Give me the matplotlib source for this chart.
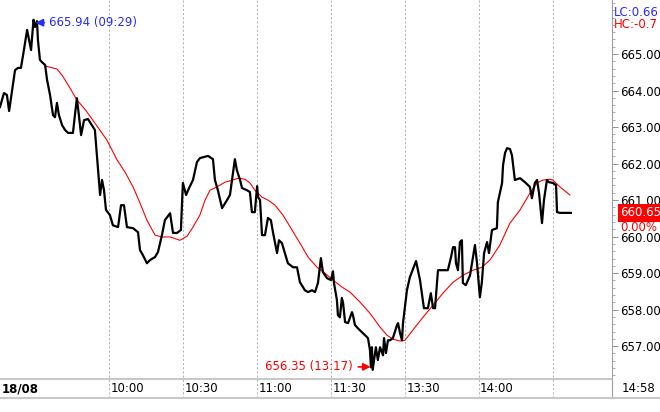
import matplotlib
matplotlib.use("Agg")
import matplotlib.pyplot as plt
from matplotlib.transforms import offset_copy, blended_transform_factory
from matplotlib.ticker import MultipleLocator

# Time axis: minutes since 09:30, lunch break removed (13:00 follows 11:30)
times = [-14.2, -12.6, -11.4, -10.5, -9.3, -8.1, -6.9, -5.7, -4.5, -3.2, -2.4, -1.6, -0.6, 0.0, 0.8,
         1.2, 2.0, 2.8, 4.1, 4.9, 6.1, 7.3, 8.1, 8.9, 9.7, 11.0, 12.2, 13.4, 15.4, 16.2, 17.0, 17.8,
         18.7, 19.9, 21.5, 23.1, 24.3, 25.6, 26.4, 27.2, 28.0, 28.8, 30.4, 31.6, 33.7, 34.9, 36.1,
         37.3, 39.8, 41.8, 42.6, 43.8, 45.4, 46.7, 48.7, 49.9, 51.5, 52.7, 54.8, 56.0, 57.6, 59.2,
         60.0, 61.3, 62.5, 64.1, 65.7, 66.9, 70.2, 72.2, 73.0, 74.2, 75.9, 77.9, 79.1, 81.1, 81.9,
         83.2, 84.0, 86.0, 87.2, 88.0, 89.2, 90.1, 90.5, 91.3, 92.1, 93.3, 94.5, 95.7, 96.6, 98.2,
         99.0, 100.2, 101.4, 102.6, 104.7, 106.3, 107.5, 109.5, 110.8, 112.4, 113.6, 114.8, 116.0,
         116.8, 118.5, 120.1, 120.9, 121.3, 122.5, 122.9, 123.7, 124.5, 125.0, 125.8, 127.0, 128.6,
         129.0, 129.8, 131.0, 132.7, 133.9, 135.1, 135.9, 136.3, 136.7, 137.0, 138.3, 139.1, 140.0,
         141.2, 141.6, 142.4, 143.2, 144.0, 145.2, 146.9, 147.3, 148.1, 148.9, 149.3, 150.9, 152.1,
         154.6, 156.2, 157.8, 159.4, 160.6, 161.5, 162.3, 163.5, 167.5, 168.8, 169.6, 170.4, 170.8,
         171.6, 172.4, 173.2, 173.6, 174.8, 176.5, 178.5, 179.3, 180.5, 181.3, 182.2, 183.4, 184.2,
         185.4, 187.4, 187.8, 189.5, 189.9, 190.7, 191.5, 192.7, 193.5, 194.7, 196.8, 198.8, 200.8,
         201.6, 202.8, 203.7, 204.5, 205.7, 206.5, 207.7, 208.5, 210.1, 211.4, 211.8, 213.0, 217.4]
prices = [663.55, 663.93, 663.88, 663.44, 664.01, 664.56, 664.62, 664.62, 665.11, 665.66, 665.38,
          665.11, 665.94, 665.74, 665.90, 665.38, 664.84, 664.78, 664.70, 664.29, 663.88, 663.33,
          663.27, 663.66, 663.33, 663.05, 662.92, 662.84, 662.84, 663.33, 663.79, 663.33, 662.78,
          663.19, 663.22, 663.05, 662.92, 661.82, 661.14, 661.55, 661.27, 660.73, 660.59, 660.31,
          660.26, 660.86, 660.86, 660.26, 660.23, 660.12, 659.63, 659.49, 659.27, 659.36, 659.44,
          659.58, 660.04, 660.45, 660.64, 660.10, 660.10, 660.18, 661.47, 661.14, 661.33, 661.55,
          662.04, 662.15, 662.21, 662.12, 661.55, 661.27, 660.78, 661.00, 661.14, 662.12, 661.82,
          661.55, 661.33, 661.27, 661.22, 660.67, 660.67, 661.38, 661.08, 661.00, 660.04, 660.04,
          660.51, 660.45, 660.10, 659.55, 659.90, 659.82, 659.55, 659.27, 659.16, 659.16, 658.75,
          658.53, 658.48, 658.53, 658.48, 658.73, 659.41, 659.03, 658.86, 658.81, 659.05, 658.73,
          658.26, 657.85, 657.79, 658.32, 658.18, 657.66, 657.63, 657.93, 657.85, 657.58, 657.49,
          657.38, 657.30, 657.22, 656.89, 656.42, 656.97, 656.35, 656.97, 656.62, 656.97, 656.75,
          657.22, 656.81, 657.16, 657.16, 657.22, 657.58, 657.63, 657.36, 657.16, 657.63, 658.53,
          658.89, 659.33, 658.81, 658.04, 658.04, 658.45, 658.04, 658.04, 659.08, 659.08, 659.44,
          659.71, 659.71, 659.27, 659.08, 659.85, 659.90, 658.73, 658.67, 658.94, 659.77, 659.30,
          658.34, 658.75, 659.55, 659.85, 659.55, 660.18, 660.23, 660.94, 661.47, 661.96, 662.29,
          662.42, 662.40, 662.23, 661.55, 661.60, 661.49, 661.36, 661.05, 661.47, 661.55, 661.19,
          660.37, 661.00, 661.55, 661.49, 661.47, 661.41, 660.67, 660.65, 660.65]

# moving average (red)
ma_times = [4.1, 6.1, 8.9, 11.0, 14.2, 17.0, 19.5, 21.1, 24.3, 29.2, 33.3, 36.5, 39.8, 42.6, 45.4,
            48.7, 51.5, 54.8, 58.8, 61.7, 64.1, 66.9, 69.0, 71.0, 73.8, 77.1, 80.3, 82.4, 85.2, 87.2,
            89.2, 92.1, 94.5, 97.4, 100.6, 104.3, 107.5, 110.8, 114.4, 117.6, 120.9, 124.5, 127.8,
            131.8, 135.9, 140.0, 142.8, 145.2, 148.1, 150.1, 153.3, 157.4, 161.5, 165.5, 169.6,
            173.6, 177.7, 181.3, 184.6, 188.6, 192.7, 196.8, 200.8, 203.7, 206.1, 208.9, 210.1,
            213.0, 217.0]
ma_values = [664.67, 664.64, 664.59, 664.42, 664.07, 663.74, 663.55, 663.41, 663.11, 662.64, 662.10,
             661.77, 661.36, 660.92, 660.45, 660.04, 659.99, 659.99, 659.90, 660.01, 660.26, 660.59,
             661.00, 661.27, 661.36, 661.49, 661.55, 661.60, 661.57, 661.47, 661.27, 661.08, 661.00,
             660.86, 660.59, 660.18, 659.82, 659.44, 659.16, 659.00, 658.81, 658.62, 658.48, 658.21,
             657.90, 657.52, 657.30, 657.19, 657.14, 657.16, 657.44, 657.79, 658.12, 658.45, 658.75,
             658.94, 659.08, 659.16, 659.36, 659.77, 660.37, 660.73, 661.19, 661.47, 661.55, 661.57,
             661.55, 661.36, 661.14]

grid_times = [30, 60, 90, 120, 150, 180, 210]
grid_labels = ["10:00", "10:30", "11:00", "11:30", "13:30", "14:00", ""]
y_ticks = [657, 658, 659, 660, 661, 662, 663, 664, 665]

high_t, high_p, high_lbl = -0.6, 665.94, "665.94 (09:29)"
low_t, low_p, low_lbl = 137.0, 656.35, "656.35 (13:17)"
last_price = 660.65
change_pct = "0.00%"
lc_text = "LC:0.66"
hc_text = "HC:-0.7"
date_lbl = "18/08"
close_lbl = "14:58"
close_t = 238

BLUE = "#2a2aff"
RED = "#ff0000"
GRID = "#b4b4b4"
FS = 8.5

fig = plt.figure(figsize=(6.6, 4.12), dpi=100)
ax = fig.add_axes([0, 33 / 412, 612 / 660, 379 / 412])
ax.set_xlim(-14.2, 234.1)
ax.set_ylim(656.10, 666.48)

ax.plot(times, prices, color="black", lw=1.6, zorder=3)
ax.plot(ma_times, ma_values, color=RED, lw=0.8, zorder=2)

# dotted vertical grid, running down through the label band
for t in grid_times:
    ax.axvline(t, ymin=-19 / 379, ymax=1, color=GRID, lw=0.75, ls=(0, (2, 2)),
               clip_on=False, zorder=1)

for s in ["top", "left"]:
    ax.spines[s].set_visible(False)
ax.spines["bottom"].set_color("#c8c8c8")
ax.spines["bottom"].set_linewidth(1.5)
ax.spines["right"].set_color("#a0a0a0")
ax.spines["right"].set_linewidth(0.8)

# right-side price axis
ax.yaxis.tick_right()
ax.set_yticks(y_ticks)
ax.set_yticklabels([f"{v:.2f}" for v in y_ticks], fontsize=FS)
ax.yaxis.set_minor_locator(MultipleLocator(0.2))
ax.tick_params(axis="y", which="major", length=4.5, width=0.7, color="#909090", pad=1.5)
ax.tick_params(axis="y", which="minor", length=2.2, width=0.6, color="#a0a0a0")

# time labels
ax.set_xticks([])
xband = blended_transform_factory(ax.transData, ax.transAxes)
for t, lbl in zip(grid_times, grid_labels):
    ax.text(t + 0.6, -10 / 379, lbl, transform=xband, fontsize=FS, ha="left", va="center",
            clip_on=False)
ax.text(-13.6, -10 / 379, date_lbl, transform=xband, fontsize=FS, fontweight="bold",
        ha="left", va="center", clip_on=False)
ax.text(close_t, -10 / 379, close_lbl, transform=xband, fontsize=FS, ha="left", va="center",
        clip_on=False)

# extend the right axis line and draw the label band bottom line
fig.add_artist(plt.Line2D([612 / 660, 612 / 660], [14 / 412, 33 / 412], color="#a0a0a0", lw=0.8))
fig.add_artist(plt.Line2D([0, 1], [14 / 412, 14 / 412], color="#c8c8c8", lw=1.5))

# high / low markers
hi_tr = offset_copy(ax.transData, fig=fig, x=2, y=-3, units="dots")
ax.annotate(high_lbl, xy=(high_t, high_p), xycoords=hi_tr, xytext=(13, 0),
            textcoords="offset pixels", color=BLUE, fontsize=FS, ha="left", va="center",
            arrowprops=dict(arrowstyle="-|>", color=BLUE, lw=1.2, shrinkA=1, shrinkB=0,
                            mutation_scale=11))
lo_tr = offset_copy(ax.transData, fig=fig, x=-2, y=3, units="dots")
ax.annotate(low_lbl, xy=(low_t, low_p), xycoords=lo_tr, xytext=(-18, 0),
            textcoords="offset pixels", color=RED, fontsize=FS, ha="right", va="center",
            arrowprops=dict(arrowstyle="-|>", color=RED, lw=1.2, shrinkA=2, shrinkB=0,
                            mutation_scale=11))

# last price tag
ytr = ax.get_yaxis_transform()
ax.annotate(f"{last_price:.2f}", xy=(1, last_price), xycoords=ytr, xytext=(8, 0),
            textcoords="offset pixels", color="white", fontsize=FS, ha="left", va="center",
            bbox=dict(boxstyle="square,pad=0.2", fc=RED, ec="none"), zorder=5,
            annotation_clip=False)
ax.annotate(change_pct, xy=(1, last_price), xycoords=ytr, xytext=(8, -15),
            textcoords="offset pixels", color=RED, fontsize=FS, ha="left", va="center",
            annotation_clip=False)

fig.text(614 / 660, 1 - 12 / 412, lc_text, color=BLUE, fontsize=FS, ha="left", va="center")
fig.text(614 / 660, 1 - 25 / 412, hc_text, color=RED, fontsize=FS, ha="left", va="center")

fig.savefig("out.png", dpi=100)
